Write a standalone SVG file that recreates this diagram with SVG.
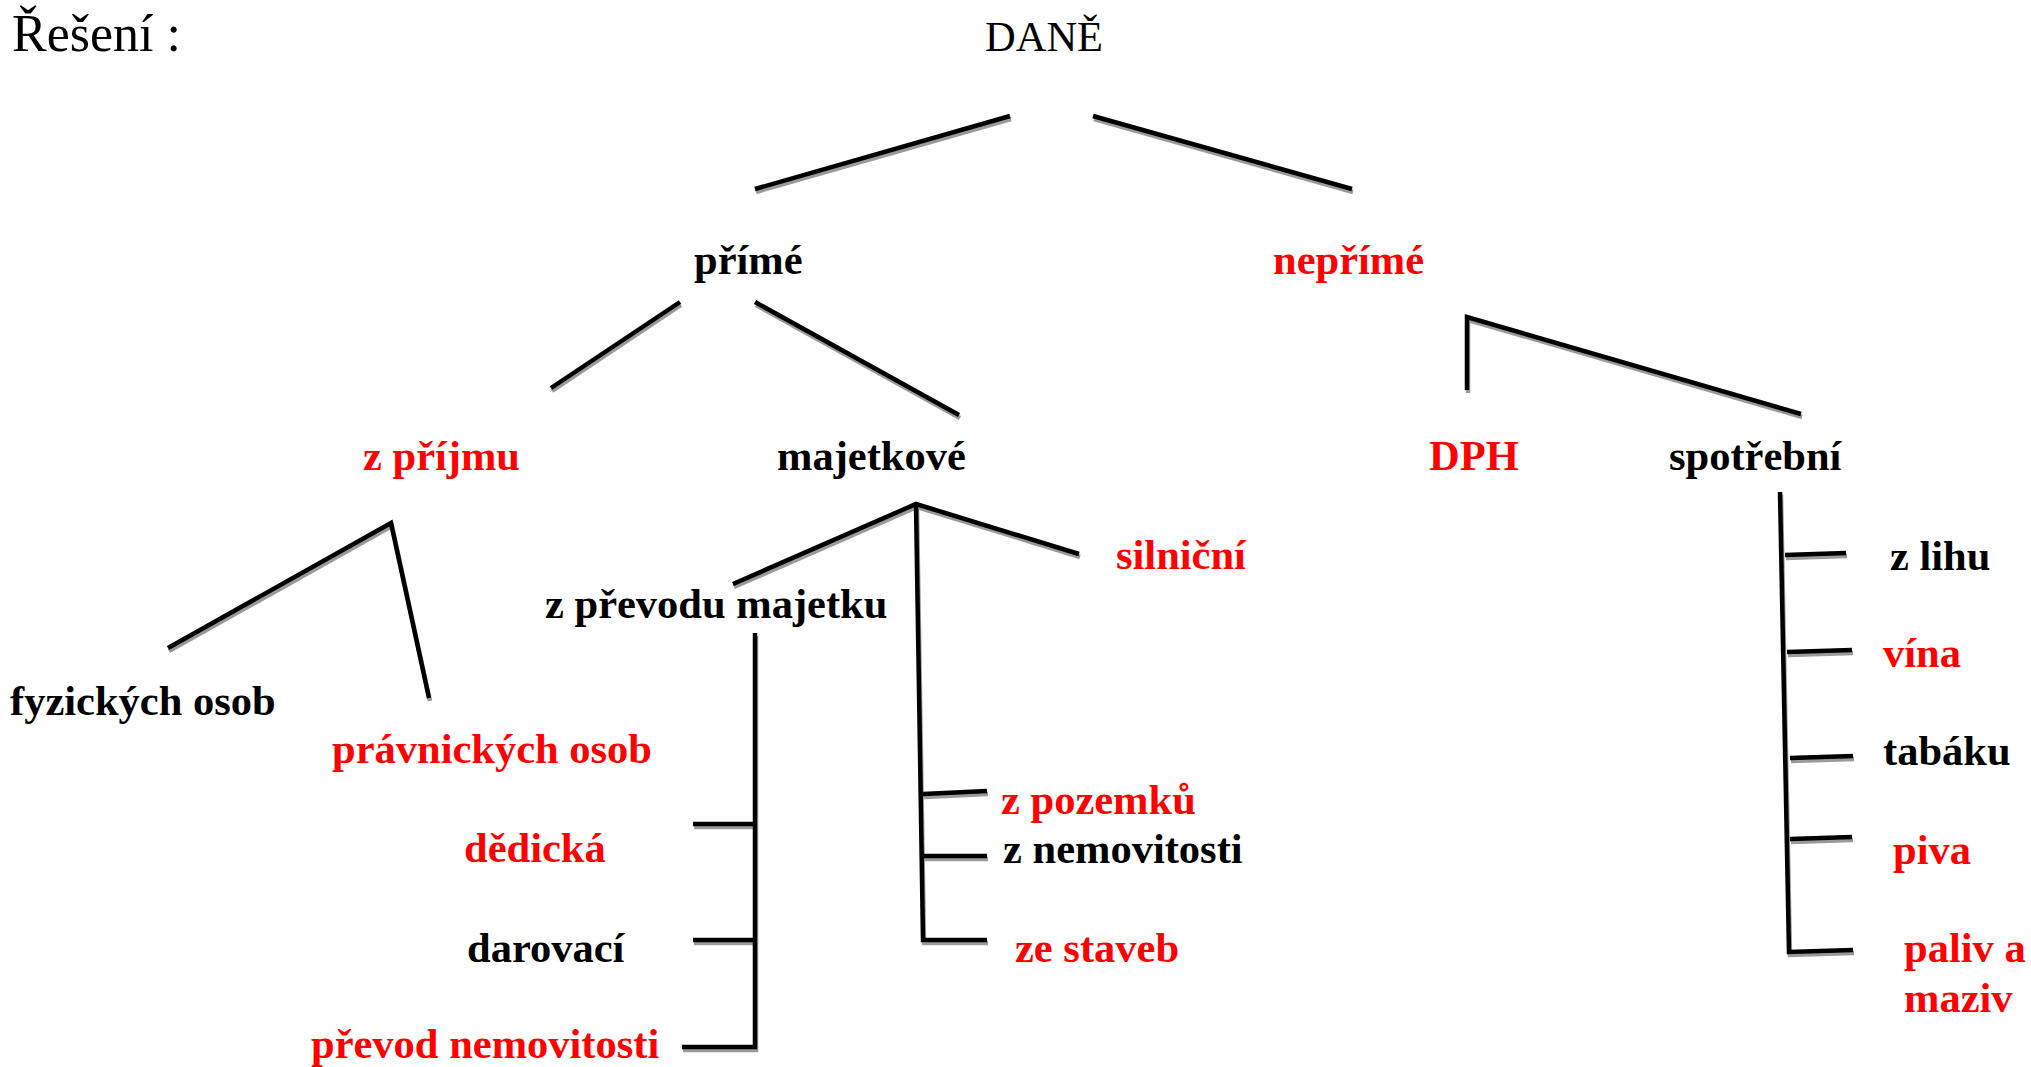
<svg xmlns="http://www.w3.org/2000/svg" xmlns:xlink="http://www.w3.org/1999/xlink" width="2031" height="1067" viewBox="0 0 2031 1067">
<style>
text{font-family:"Liberation Serif","Times New Roman",serif;font-size:42.5px;font-weight:bold;fill:#000}
.red{fill:#ff0000}
.reg{font-weight:normal}
.conn line,.conn polyline{fill:none;stroke-width:4.5;stroke-linecap:butt;stroke-linejoin:miter}
</style>
<rect width="2031" height="1067" fill="#fff"/>
<use xlink:href="#conn-lines" href="#conn-lines" class="conn" stroke="#9a9a9a" transform="translate(1,3)"/>
<g id="connectors" class="conn" stroke="#000">
<g id="conn-lines">
<line x1="1010" y1="116" x2="755" y2="189"/>
<line x1="1093" y1="116" x2="1352" y2="189"/>
<line x1="680" y1="302" x2="551" y2="388"/>
<line x1="755" y1="302" x2="959" y2="415"/>
<polyline points="1467,390 1467,317 1801,414"/>
<polyline points="168,648 391,523 429,698"/>
<polyline points="733,584 916,504 1079,554"/>
<polyline points="916,504 923,940 987,940"/>
<line x1="923" y1="794" x2="987" y2="791"/>
<line x1="923" y1="856" x2="987" y2="856"/>
<polyline points="755,633 755,1047 682,1047"/>
<line x1="693" y1="824" x2="755" y2="824"/>
<line x1="693" y1="940" x2="755" y2="940"/>
<polyline points="1780,492 1789,952 1853,950"/>
<line x1="1785" y1="555" x2="1846" y2="553"/>
<line x1="1787" y1="652" x2="1852" y2="650"/>
<line x1="1790" y1="758" x2="1853" y2="756"/>
<line x1="1790" y1="839" x2="1852" y2="837"/>
</g>
</g>
<g id="title"><text class="reg" x="12" y="51" style="font-size:52px">Řešení :</text></g>
<g id="n-dane"><text class="reg" x="985" y="51">DANĚ</text></g>
<g id="n-prime"><text x="694" y="274">přímé</text></g>
<g id="n-neprime"><text class="red" x="1273" y="274">nepřímé</text></g>
<g id="n-zprijmu"><text class="red" x="363" y="470">z příjmu</text></g>
<g id="n-majetkove"><text x="777" y="470">majetkové</text></g>
<g id="n-dph"><text class="red" x="1429" y="470">DPH</text></g>
<g id="n-spotrebni"><text x="1669" y="470">spotřební</text></g>
<g id="n-fyzickych"><text x="10" y="715">fyzických osob</text></g>
<g id="n-pravnickych"><text class="red" x="332" y="763">právnických osob</text></g>
<g id="n-silnicni"><text class="red" x="1116" y="569">silniční</text></g>
<g id="n-zprevodu"><text x="545" y="618">z převodu majetku</text></g>
<g id="n-dedicka"><text class="red" x="464" y="862">dědická</text></g>
<g id="n-darovaci"><text x="467" y="962">darovací</text></g>
<g id="n-prevodnem"><text class="red" x="311" y="1058">převod nemovitosti</text></g>
<g id="n-zpozemku"><text class="red" x="1001" y="814">z pozemků</text></g>
<g id="n-znemovitosti"><text x="1003" y="863">z nemovitosti</text></g>
<g id="n-zestaveb"><text class="red" x="1015" y="962">ze staveb</text></g>
<g id="n-zlihu"><text x="1890" y="570">z lihu</text></g>
<g id="n-vina"><text class="red" x="1883" y="667">vína</text></g>
<g id="n-tabaku"><text x="1883" y="765">tabáku</text></g>
<g id="n-piva"><text class="red" x="1893" y="864">piva</text></g>
<g id="n-paliv"><text class="red" x="1904" y="962">paliv a</text><text class="red" x="1904" y="1012">maziv</text></g>
</svg>
